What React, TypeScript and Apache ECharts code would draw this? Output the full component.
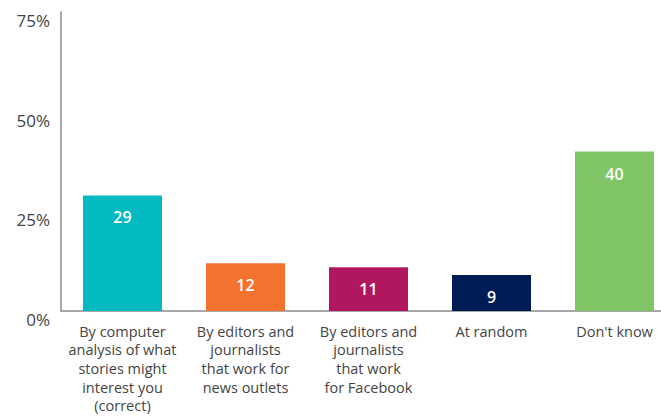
import React, { useEffect, useRef } from "react";
import * as echarts from "echarts";

const categories = [
  "By computer\nanalysis of what\nstories might\ninterest you\n(correct)",
  "By editors and\njournalists\nthat work for\nnews outlets",
  "By editors and\njournalists\nthat work\nfor Facebook",
  "At random",
  "Don't know",
];
const values = [29, 12, 11, 9, 40];
const colors = ["#00B9C1", "#F4722F", "#B0175F", "#001C54", "#80C566"];
const yTicks = { min: 0, max: 75, interval: 25 };

export default function App() {
  const ref = useRef<HTMLDivElement>(null);
  useEffect(() => {
    if (!ref.current) return;
    const chart = echarts.init(ref.current, undefined, { renderer: "svg" });
    chart.setOption({
      animation: false,
      textStyle: { fontFamily: "Open Sans" },
      grid: { left: 61, top: 12, bottom: 105, right: -15, outerBoundsMode: "none", containLabel: false },
      xAxis: {
        type: "category",
        data: categories,
        axisLine: { lineStyle: { color: "#8a8a8a", width: 1.5 } },
        axisTick: { show: false },
        axisLabel: {
          color: "#444",
          fontSize: 14.5,
          lineHeight: 18.6,
          margin: 11,
          interval: 0,
          fontFamily: "Open Sans",
        },
      },
      yAxis: {
        type: "value",
        min: yTicks.min,
        max: yTicks.max,
        interval: yTicks.interval,
        splitLine: { show: false },
        axisTick: { show: false },
        axisLine: { show: true, lineStyle: { color: "#8a8a8a", width: 1.5 } },
        axisLabel: {
          formatter: "{value}%",
          color: "#444",
          fontSize: 17,
          margin: 11,
          verticalAlign: "top",
          fontFamily: "Open Sans",
        },
      },
      series: [
        {
          type: "bar",
          barWidth: 79,
          data: values.map((v, i) => ({ value: v, itemStyle: { color: colors[i] } })),
          label: {
            show: true,
            position: "insideTop",
            distance: 14,
            color: "#fff",
            fontSize: 16,
            fontWeight: 600,
            fontFamily: "Open Sans",
          },
        },
      ],
    });
    return () => chart.dispose();
  }, []);
  return (
    <div
      ref={ref}
      style={{ position: "fixed", left: 0, top: 0, width: 661, height: 416, background: "#fff" }}
    />
  );
}
